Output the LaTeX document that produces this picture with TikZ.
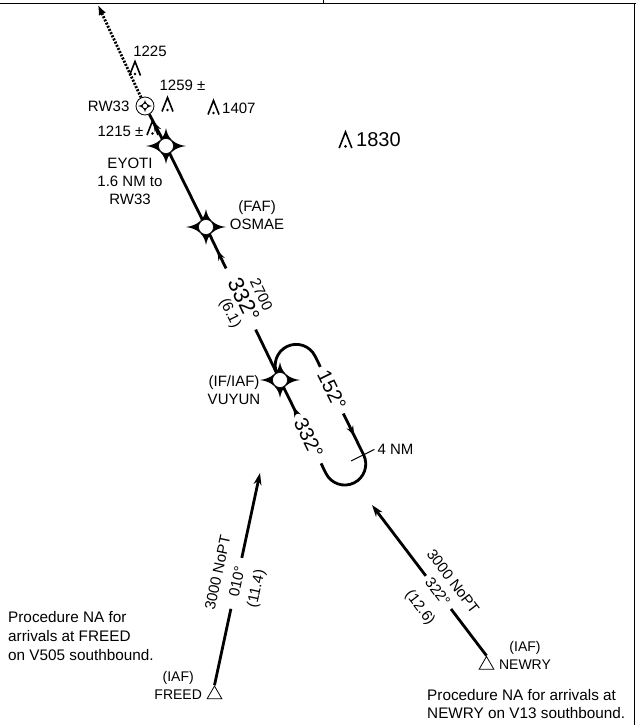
\documentclass[tikz,border=0pt]{standalone}
\usepackage{fontspec}
\setmainfont{Liberation Sans}
\usetikzlibrary{arrows.meta, calc, decorations.markings, positioning, shapes.geometric}

\tikzset{
  crs/.style={line width=2.8pt},
  missed/.style={line width=2.8pt, dash pattern=on 2pt off 1.5pt},
  fwdarrow/.style={postaction={decorate, decoration={markings,
      mark=at position #1 with {\arrow{Stealth[length=10pt,width=7pt]}}}}},
  revarrow/.style={postaction={decorate, decoration={markings,
      mark=at position #1 with {\arrowreversed{Stealth[length=10pt,width=7pt]}}}}},
  fix/.style={circle, minimum size=15pt, inner sep=0pt},
  iaf/.style={draw, regular polygon, regular polygon sides=3, minimum size=17pt,
    inner sep=0pt, line width=.8pt},
  lbl/.style={font=\fontsize{15}{18}\selectfont, inner sep=0pt, align=center},
  iaflbl/.style={font=\fontsize{14}{17}\selectfont, inner sep=0pt, align=center},
  note/.style={font=\fontsize{15.3}{19}\selectfont, inner sep=0pt, align=left},
  crsbig/.style={font=\fontsize{20}{22}\selectfont, inner sep=0pt},
  crsmain/.style={font=\fontsize{22}{24}\selectfont, inner sep=0pt},
  fixstar/.pic={
    \fill (-20,0) .. controls (-8,1.5) and (-1.5,8) .. (0,18)
      .. controls (1.5,8) and (8,1.5) .. (20,0)
      .. controls (8,-1.5) and (1.5,-8) .. (0,-18)
      .. controls (-1.5,-8) and (-8,-1.5) .. cycle;
    \draw[fill=white, line width=.6pt] (0,0) circle (7.5);
  },
  obst/.pic={
    \draw[line width=1.6pt, line join=miter] (-5.5,-7) -- (0,7) -- (5.5,-7);
    \fill (0,-5.5) circle (1.3);
  },
}

\begin{document}
\begin{tikzpicture}[x=1pt, y=1pt]
\useasboundingbox (0,0) rectangle (636,-725);

% frame
\draw[line width=1.8pt] (0,-3.5) -- (636,-3.5);
\draw[line width=1.8pt] (634.5,-2.6) -- (634.5,-725);
\draw[line width=1pt] (323,0) -- (323,-3.5);

% fixes
\node[circle, draw, line width=.8pt, minimum size=18pt, inner sep=0pt] (rw33) at (145,-106) {};
\node[fix] (eyoti) at (166,-146) {};
\node[fix] (osmae) at (206,-227) {};
\node[fix] (vuyun) at (280,-380) {};
\coordinate (mtip) at (98,-5);

% final approach
\draw[missed, -{Latex[length=10pt,width=8pt]}] (rw33) -- (mtip);
\draw[crs, revarrow=.3] (rw33) -- (eyoti);
\draw[crs] (eyoti) -- (osmae);
\draw[crs, fwdarrow=20pt] ($(osmae)!46pt!(vuyun)$) -- (osmae);
\draw[crs] ($(osmae)!114pt!(vuyun)$) -- (vuyun);
\path (osmae) -- (vuyun)
  node[crsmain, sloped, pos=.48, yshift=3pt] {332°}
  node[lbl, sloped, pos=.50, above=15pt] {2700}
  node[lbl, sloped, pos=.52, below=9pt] {(6.1)};

% holding pattern
\begin{scope}[shift={(vuyun)}, rotate=-63.8]
  \draw[crs, fwdarrow=8pt] (38,0) -- (vuyun);
  \draw[crs] (0,0) -- (-6,0) arc[start angle=-90, end angle=-270, radius=21] -- (6,42);
  \draw[crs, fwdarrow=25pt] (58,42) -- (104,42) arc[start angle=90, end angle=-90, radius=21] -- (93,0);
  \draw[line width=1pt] (104,28) -- (104,54) coordinate (nm4);
  \node[crsbig, rotate=-63.8] at (32,42) {152°};
  \node[crsbig, rotate=-63.8] at (65,0) {332°};
\end{scope}
\node[lbl, anchor=west, xshift=3pt] at (nm4) {4 NM};

\pic at (eyoti) {fixstar};
\pic at (osmae) {fixstar};
\pic at (vuyun) {fixstar};
\pic[scale=.35] at (rw33) {fixstar};

% fix names
\node[lbl, left=6pt of rw33] (rw33lbl) {RW33};
\node[lbl] (eyotilbl) at (130,-181) {EYOTI\\1.6 NM to\\RW33};
\node[lbl] (osmaelbl) at (257,-215) {(FAF)\\OSMAE};
\node[lbl] (vuyunlbl) at (234,-390) {(IF/IAF)\\VUYUN};

% obstacles
\pic at (135,-68.5) {obst};
\node[lbl] (ob1225) at (150,-51.5) {1225};
\pic at (167.5,-104.5) {obst};
\node[lbl] (ob1259) at (182.5,-85.5) {1259 ±};
\pic at (213.5,-107.5) {obst};
\node[lbl, anchor=west] (ob1407) at (222,-108) {1407};
\pic at (152.5,-128) {obst};
\node[lbl] (ob1215) at (120.5,-131.7) {1215 ±};
\pic[scale=1.15] at (345.5,-140) {obst};
\node[font=\fontsize{20}{22}\selectfont, inner sep=0pt, anchor=west] (ob1830) at (356,-140) {1830};

% FREED transition
\node[iaf] (freed) at (214.5,-694.5) {};
\coordinate (ftip) at (260,-473);
\draw[crs] (freed.corner 1) -- ($(freed.corner 1)!.36!(ftip)$);
\draw[crs, -{Stealth[length=12pt,width=8pt]}] ($(freed.corner 1)!.60!(ftip)$) -- (ftip);
\path (freed.corner 1) -- (ftip)
  node[lbl, sloped, pos=.49] {010°}
  node[lbl, sloped, pos=.51, above=15pt] {3000 NoPT}
  node[lbl, sloped, pos=.475, below=14pt] {(11.4)};
\node[iaflbl, left=7pt of freed] (freedname) {FREED};
\node[iaflbl, above=5pt of freedname] {(IAF)};

% NEWRY transition
\node[iaf] (newry) at (486.5,-665) {};
\coordinate (ntip) at (372,-505);
\draw[crs] (newry.corner 1) -- ($(newry.corner 1)!.31!(ntip)$);
\draw[crs, -{Stealth[length=12pt,width=8pt]}] ($(newry.corner 1)!.53!(ntip)$) -- (ntip);
\path (ntip) -- (newry.corner 1)
  node[lbl, sloped, pos=.575] {322°}
  node[lbl, sloped, pos=.58, above=13pt] {3000 NoPT}
  node[lbl, sloped, pos=.585, below=17pt] {(12.6)};
\node[iaflbl, right=7pt of newry] (newryname) {NEWRY};
\node[iaflbl, above=5pt of newryname] {(IAF)};

% notes
\node[note, anchor=north west] (freednote) at (8,-611) {Procedure NA for\\arrivals at FREED\\on V505 southbound.};
\node[note, anchor=north west] (newrynote) at (427,-689) {Procedure NA for arrivals at\\[-1pt]NEWRY on V13 southbound.};
\end{tikzpicture}
\end{document}
